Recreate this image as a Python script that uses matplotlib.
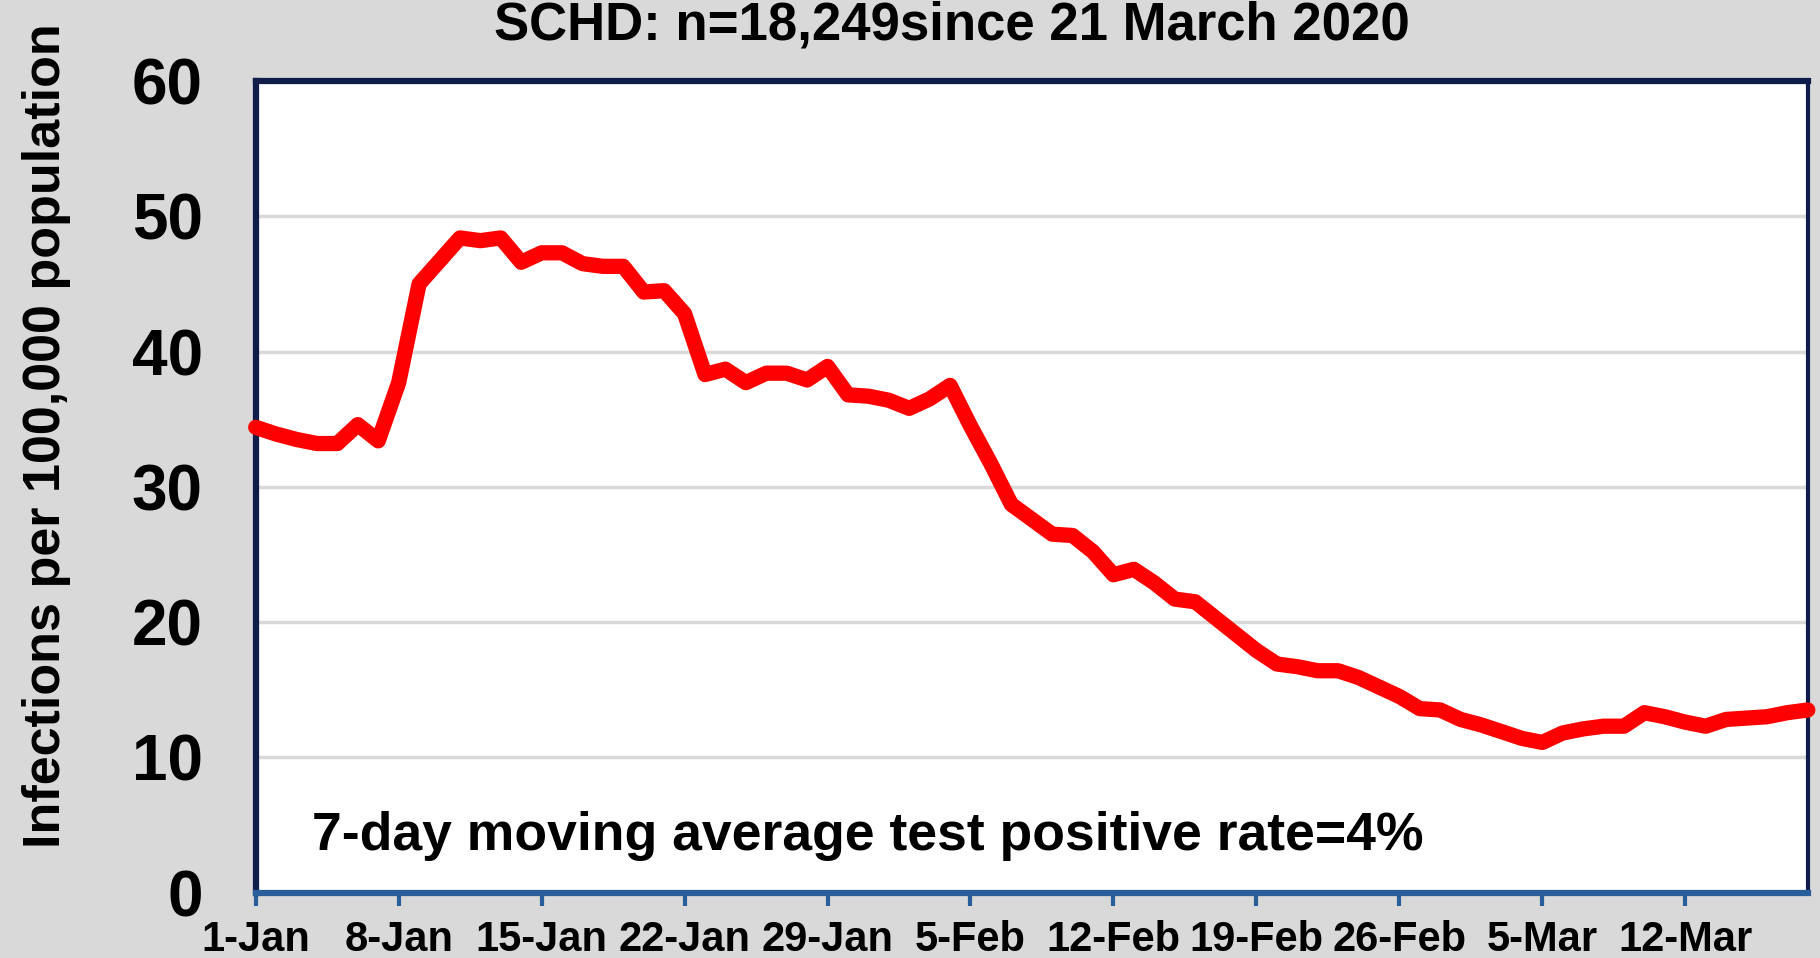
import matplotlib
matplotlib.use('Agg')
import matplotlib.pyplot as plt
import numpy as np

# daily values, 1 Jan .. 18 Mar (per 100,000, 7-day moving average)
infections = [34.4, 33.9, 33.5, 33.2, 33.2, 34.6, 33.4, 37.7, 45.0, 46.7,
              48.4, 48.2, 48.4, 46.6, 47.3, 47.3, 46.5, 46.3, 46.3, 44.4,
              44.5, 42.8, 38.3, 38.7, 37.7, 38.4, 38.4, 37.9, 38.9, 36.8,
              36.7, 36.4, 35.8, 36.5, 37.5, 34.5, 31.7, 28.7, 27.6, 26.5,
              26.4, 25.2, 23.5, 23.9, 22.9, 21.7, 21.5, 20.3, 19.1, 17.9,
              16.9, 16.7, 16.4, 16.4, 15.9, 15.2, 14.5, 13.6, 13.5, 12.8,
              12.4, 11.9, 11.4, 11.1, 11.8, 12.1, 12.3, 12.3, 13.3, 13.0,
              12.6, 12.3, 12.8, 12.9, 13.0, 13.3, 13.5]
days = np.arange(len(infections))

tick_days = [0, 7, 14, 21, 28, 35, 42, 49, 56, 63, 70]
tick_labels = ['1-Jan', '8-Jan', '15-Jan', '22-Jan', '29-Jan', '5-Feb',
               '12-Feb', '19-Feb', '26-Feb', '5-Mar', '12-Mar']
y_ticks = [0, 10, 20, 30, 40, 50, 60]

plt.rcParams['font.family'] = ['Liberation Sans', 'DejaVu Sans']
plt.rcParams['font.weight'] = 'bold'

fig = plt.figure(figsize=(18.2, 9.58), dpi=100)
fig.patch.set_facecolor('#d9d9d9')
ax = fig.add_axes([0.1405, 0.0683, 0.8528, 0.8471])
ax.set_facecolor('white')

ax.plot(days, infections, color='#ff0000', linewidth=11, solid_joinstyle='round',
        solid_capstyle='round', zorder=3, clip_on=False)

ax.set_xlim(0, 76)
ax.set_ylim(0, 60)
ax.set_yticks(y_ticks)
ax.set_yticklabels([str(v) for v in y_ticks], fontsize=46, fontweight='bold')
ax.set_xticks(tick_days)
ax.set_xticklabels(tick_labels, fontsize=30, fontweight='bold')

ax.grid(axis='y', color='#d9d9d9', linewidth=2.5, zorder=1)
ax.tick_params(axis='y', length=0, pad=38)
ax.tick_params(axis='x', length=9, width=3, color='#2a5e9a', pad=11)

for side in ['left', 'top']:
    ax.spines[side].set_color('#0f1d4a')
    ax.spines[side].set_linewidth(4.5)
ax.spines['right'].set_color('#0f1d4a')
ax.spines['right'].set_linewidth(3)
ax.spines['bottom'].set_color('#2a5e9a')
ax.spines['bottom'].set_linewidth(4.5)

ax.set_ylabel('Infections per 100,000 population', fontsize=37.5, fontweight='bold')
ax.yaxis.set_label_coords(-0.119, 0.563)

ax.text(0.036, 0.07, '7-day moving average test positive rate=4%',
        transform=ax.transAxes, fontsize=38.5, fontweight='bold',
        ha='left', va='center')

fig.text(0.523, 0.999, 'SCHD: n=18,249since 21 March 2020', fontsize=38,
         fontweight='bold', ha='center', va='top')

fig.savefig('out.png', dpi=100, facecolor=fig.get_facecolor())
